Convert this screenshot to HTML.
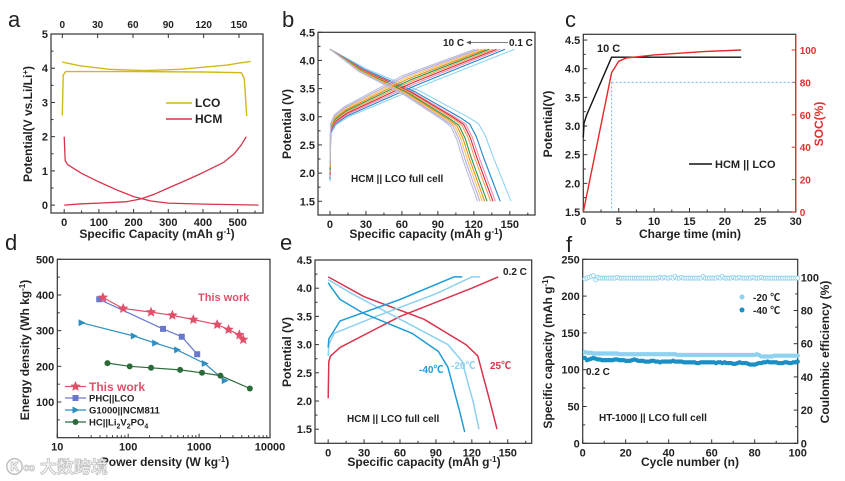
<!DOCTYPE html>
<html><head><meta charset="utf-8">
<style>
html,body{margin:0;padding:0;background:#fff;}
svg{display:block;font-family:"Liberation Sans","Noto Sans CJK SC",sans-serif;}
</style></head>
<body>
<svg id="fig" width="845" height="481" viewBox="0 0 845 481" xmlns="http://www.w3.org/2000/svg"></svg>
<script>
// ---------- DATA ----------
// panel a
const aLcoChargeX=[0,15,40,70,100,140,150,160];
const aLcoChargeY=[4.18,4.07,3.97,3.93,3.97,4.09,4.15,4.2];
const aLcoDisX=[0,0.8,3,60,120,152,154.5,156.5];
const aLcoDisY=[2.62,3.8,3.9,3.9,3.89,3.87,3.7,2.6];
const aHcmDisX=[0,3,10,50,100,150,200,250,300,400,560];
const aHcmDisY=[2.0,1.3,1.18,0.93,0.68,0.45,0.25,0.12,0.06,0.03,0.0];
const aHcmChX=[0,50,100,180,220,260,300,350,400,460,490,510,525];
const aHcmChY=[0,0.04,0.06,0.1,0.18,0.32,0.5,0.72,0.95,1.25,1.5,1.75,2.0];
// panel b
const bRates=["0.1C","0.2C","0.3C","0.5C","1C","2C","3C","5C","8C","10C"];
const bChargeCap=[154,146,142,139,136,133,130,127,124,121];
const bDisCap=[151,142,138,136,134,131,129,127,125,123];
const bOffset=[0,0.02,0.04,0.06,0.08,0.1,0.12,0.14,0.16,0.18];
const bColors=["#8ed3f2","#1f86c8","#f28db0","#d8283c","#f4a35a","#2c9a48","#f08c1e","#f3c75a","#b9a8e6","#b8c0d8"];
const bChargeFrac=[0,0.004,0.03,0.1,0.5,1];
const bChargeV=[1.85,2.7,2.85,3.0,3.55,4.2];
const bDisFrac=[0,0.2,0.5,0.76,0.82,0.86,0.9,1];
const bDisV=[4.2,3.85,3.45,3.0,2.88,2.65,2.3,1.5];
// panel c
const cTimeV=[0,0.1,0.5,4,22.3];
const cVolt=[2.8,3.05,3.2,4.2,4.2];
const cTimeS=[0,4,5,6,10,17,22.3];
const cSoc=[0,86,93,95,97,99,100];
// panel d
const dThisP=[44,85,210,420,830,1800,2600,3700,4200];
const dThisE=[393,362,352,343,331,317,303,288,275];
const dPhcP=[39,310,570,940];
const dPhcE=[388,305,283,234];
const dG1P=[22,120,240,490,1200,2300];
const dG1E=[322,285,265,246,208,160];
const dHcP=[51,105,210,540,1100,2000,5200];
const dHcE=[209,200,196,190,182,174,138];
// panel e
const e25cX=[0,0.5,2,10,60,120,142]; const e25cY=[2.05,2.7,2.8,2.95,3.5,4.0,4.2];
const e25dX=[0,30,80,115,125,130,135,141]; const e25dY=[4.2,3.85,3.45,3.0,2.8,2.4,2.0,1.5];
const e20cX=[0,0.5,5,40,90,120,127]; const e20cY=[2.8,3.0,3.2,3.5,3.9,4.2,4.2];
const e20dX=[0,20,60,100,112,117,121,126]; const e20dY=[4.15,3.9,3.45,3.0,2.7,2.3,2.0,1.5];
const e40cX=[0,0.5,10,60,105,112]; const e40cY=[2.95,3.1,3.42,3.8,4.2,4.2];
const e40dX=[0,3,10,30,70,92,100,105,110,114]; const e40dY=[4.1,4.0,3.8,3.55,3.2,2.88,2.6,2.2,1.8,1.45];
// panel f
const fCap20=[124,123,123,123,122,122,122,122,122,122,122,122,122,122,122,122,121,121,121,121,121,121,121,121,121,121,121,121,121,121,121,121,121,121,121,121,121,121,121,121,121,121,121,120,120,120,120,120,120,120,120,120,120,120,120,120,120,120,120,120,120,120,120,120,120,120,120,120,120,120,120,120,120,120,120,120,120,120,120,120,121,120,118,118,118,118,118,118,119,119,119,119,119,119,119,119,119,119,119,119];
const fCap40=[116,113,114,115,116,115,114,114,113,113,113,113,113,113,114,114,113,113,113,112,112,112,113,114,113,112,112,112,111,111,111,112,112,111,111,110,111,111,111,111,111,112,111,111,111,111,110,110,110,110,110,110,109,109,110,110,110,110,110,110,110,109,110,110,109,110,109,109,109,108,108,109,110,109,109,109,108,107,107,107,108,109,109,110,110,111,110,110,110,110,109,109,109,110,110,109,109,110,110,111];
const fCe=[99,99.5,100,100.5,101,98.5,100,99.5,99.5,99.5,99.5,99.5,99.5,99.5,99.5,100,99.5,99.5,99.5,99.5,99.5,99.5,99.5,99.5,99.5,99.5,99.5,99.5,99.5,99.5,99.5,99.5,99.5,99.5,99.5,100,99.5,100,99.5,99.5,100,99.5,100.5,99.5,99.5,100,99.5,99.5,99.5,99.5,99.5,99.5,99.5,99.5,99.5,100.5,99.5,99.5,99.5,99.5,99.5,99.5,100,99.5,100.5,99.5,99.5,99.5,99.5,100,99.5,99.5,100,99.5,99.5,99.5,99.5,99.5,100,99.5,99.5,99.5,100,99.5,99.5,99.5,99.5,99.5,99.5,99.5,99.5,99.5,99.5,99.5,99.5,99.5,99.5,99.5,99.5,99.5];

// ---------- HELPERS ----------
const NS="http://www.w3.org/2000/svg";
const svg=document.getElementById('fig');
function mk(tag,a,p){const e=document.createElementNS(NS,tag);for(const k in a)e.setAttribute(k,a[k]);(p||svg).appendChild(e);return e;}
function txt(x,y,s,a,p){const e=mk('text',Object.assign({x:x,y:y,'font-size':11,'font-weight':'bold',fill:'#222'},a||{}),p);e.innerHTML=s;return e;}
function axes(o){
  const g=mk('g',{});
  
  
  const lg=Math.log10;
  o.sx=v=>o.xlog? o.L+(lg(v)-lg(o.xmin))/(lg(o.xmax)-lg(o.xmin))*(o.R-o.L) : o.L+(v-o.xmin)/(o.xmax-o.xmin)*(o.R-o.L);
  o.sy=v=>o.B-(v-o.ymin)/(o.ymax-o.ymin)*(o.B-o.T);
  o.g=g;
  return o;
}
function frame(o){
  const r=mk('rect',{x:o.L,y:o.T,width:o.R-o.L,height:o.B-o.T,fill:'none',stroke:'#333','stroke-width':1.2},o.g);
  
  
}
function xticks(o,vals,labels,minor){
  vals.forEach((v,i)=>{const x=o.sx(v);mk('line',{x1:x,x2:x,y1:o.B,y2:o.B-4,stroke:'#333'},o.g);
    const t=txt(x,o.B+13,labels[i],{'text-anchor':'middle'},o.g);
    
    });
  (minor||[]).forEach(v=>{const x=o.sx(v);mk('line',{x1:x,x2:x,y1:o.B,y2:o.B-2.5,stroke:'#333'},o.g);});
}
function yticks(o,vals,labels,minor){
  vals.forEach((v,i)=>{const y=o.sy(v);mk('line',{x1:o.L,x2:o.L+4,y1:y,y2:y,stroke:'#333'},o.g);
    const t=txt(o.L-3,y+4,labels[i],{'text-anchor':'end'},o.g);
    
    });
  (minor||[]).forEach(v=>{const y=o.sy(v);mk('line',{x1:o.L,x2:o.L+2.5,y1:y,y2:y,stroke:'#333'},o.g);});
}
function line(o,xs,ys,color,w,sx,sy){
  sx=sx||o.sx; sy=sy||o.sy;
  return mk('polyline',{points:xs.map((x,i)=>sx(x).toFixed(1)+','+sy(ys[i]).toFixed(1)).join(' '),fill:'none',stroke:color,'stroke-width':w||1.3,'stroke-linejoin':'round'},o.g);
}
function rng(a,b,s){const r=[];for(let v=a;v<=b+1e-9;v+=s)r.push(+v.toFixed(4));return r;}
function panelLetter(x,y,s){const t=mk('text',{x:x,y:y,'font-size':22,fill:'#222'});t.textContent=s;
  
  }
function ytitle(x,cy,html,color){const t=mk('text',{x:0,y:0,'font-size':12,'font-weight':'bold',fill:color||'#222','text-anchor':'middle',transform:`translate(${x},${cy}) rotate(-90)`});t.innerHTML=html;return t;}
function xtitle(cx,y,html){const t=mk('text',{x:cx,y:y,'font-size':12,'font-weight':'bold',fill:'#222','text-anchor':'middle'});t.innerHTML=html;return t;}
const SUPm1='<tspan dy="-4" font-size="8">-1</tspan><tspan dy="4">)</tspan>';

// ---------- PANEL A ----------
panelLetter(8,27,'a');
const A=axes({name:'panel-a',L:51,R:263,T:34,B:213,xmin:-38,xmax:573,ymin:-0.23,ymax:5});
frame(A);
xticks(A,[0,100,200,300,400,500],['0','100','200','300','400','500'],rng(50,550,100));
yticks(A,[0,1,2,3,4,5],['0','1','2','3','4','5'],rng(0.5,4.5,1));
const sxTop=v=>62.3+v*1.178;
[0,30,60,90,120,150].forEach(v=>{const x=sxTop(v);mk('line',{x1:x,x2:x,y1:A.T,y2:A.T+4,stroke:'#333'},A.g);
  const t=txt(x,28,String(v),{'text-anchor':'middle','font-size':10},A.g);
  
  });
let s;
s=line(A,aLcoChargeX,aLcoChargeY,'#d4b71c',1.4,sxTop);
s=line(A,aLcoDisX,aLcoDisY,'#d4b71c',1.4,sxTop);
s=line(A,aHcmDisX,aHcmDisY,'#d8334c',1.3);
s=line(A,aHcmChX,aHcmChY,'#d8334c',1.3);
mk('line',{x1:166,x2:192,y1:103,y2:103,stroke:'#d4b71c','stroke-width':1.4});
s=txt(195,107,'LCO',{'font-size':12});
mk('line',{x1:166,x2:192,y1:119,y2:119,stroke:'#d8334c','stroke-width':1.4});
s=txt(195,123,'HCM',{'font-size':12});
s=ytitle(32,124,'Potential(V vs.Li/Li<tspan dy="-4" font-size="8">+</tspan><tspan dy="4">)</tspan>');
s=xtitle(157,238,'Specific Capacity (mAh g'+SUPm1);

// ---------- PANEL B ----------
panelLetter(282,27,'b');
const Bp=axes({name:'panel-b',L:318,R:535,T:32.3,B:215,xmin:-10,xmax:171,ymin:1.256,ymax:4.5});
frame(Bp);
xticks(Bp,[0,30,60,90,120,150],['0','30','60','90','120','150'],rng(15,165,30));
yticks(Bp,[1.5,2,2.5,3,3.5,4,4.5],['1.5','2.0','2.5','3.0','3.5','4.0','4.5'],rng(1.75,4.25,0.5));
bRates.forEach((r,i)=>{
  let c=line(Bp,bChargeFrac.map(f=>f*bChargeCap[i]),bChargeV.map((v,k)=>k==0?v+bOffset[i]*2:Math.min(4.2,v+bOffset[i])),bColors[i],1.1);
  
  
  let d=line(Bp,bDisFrac.map(f=>f*bDisCap[i]),bDisV.map((v,k)=>k==0||k==bDisV.length-1?v:v-bOffset[i]*0.3),bColors[i],1.1);
  
  
});
s=txt(443,46,'10 C',{'font-size':10});
mk('line',{x1:469,x2:508,y1:42.5,y2:42.5,stroke:'#555','stroke-width':0.8});
mk('polygon',{points:'466,42.5 471,40.5 471,44.5',fill:'#555'});
s=txt(509,46,'0.1 C',{'font-size':10});
s=txt(351,182,'HCM || LCO full cell',{'font-size':10});
s=ytitle(291,124,'Potential (V)');
s=xtitle(426,238,'Specific capacity (mAh g'+SUPm1);

// ---------- PANEL C ----------
panelLetter(565,27,'c');
const C=axes({name:'panel-c',L:583.3,R:795.7,T:34.3,B:212,xmin:0,xmax:30,ymin:1.5,ymax:4.6});
const sySoc=v=>212-v*1.62;
frame(C);
xticks(C,[0,5,10,15,20,25,30],['0','5','10','15','20','25','30'],rng(2.5,27.5,5));
yticks(C,[1.5,2,2.5,3,3.5,4,4.5],['1.5','2.0','2.5','3.0','3.5','4.0','4.5'],rng(1.75,4.25,0.5));
mk('line',{x1:C.R,x2:C.R,y1:C.T,y2:C.B,stroke:'#e03030','stroke-width':1.3},C.g);
[0,20,40,60,80,100].forEach(v=>{const y=sySoc(v);mk('line',{x1:C.R,x2:C.R-4,y1:y,y2:y,stroke:'#e03030'},C.g);
  const t=txt(C.R+4,y+4,String(v),{fill:'#e03030','font-size':10},C.g);
  
  });
mk('line',{x1:C.sx(4),x2:C.sx(4),y1:sySoc(80),y2:C.B,stroke:'#6bbbe6','stroke-dasharray':'2,2'},C.g);
mk('line',{x1:C.sx(4),x2:C.R,y1:sySoc(80),y2:sySoc(80),stroke:'#6bbbe6','stroke-dasharray':'2,2'},C.g);
s=line(C,cTimeV,cVolt,'#111',1.4);
s=line(C,cTimeS,cSoc,'#e62828',1.4,C.sx,sySoc);
s=txt(597,52,'10 C',{'font-size':11});
mk('line',{x1:689,x2:712,y1:164,y2:164,stroke:'#111','stroke-width':1.4});
s=txt(715,168,'HCM || LCO',{'font-size':11});
s=ytitle(552,124,'Potential(V)');
s=ytitle(823,124,'SOC(%)','#e03030');
s=xtitle(690,238,'Charge time (min)');

// ---------- PANEL D ----------
panelLetter(5,250,'d');
const D=axes({name:'panel-d',L:57.3,R:270,T:259.3,B:437.7,xmin:10,xmax:10000,ymin:0,ymax:500,xlog:true});
frame(D);
const dMinor=[];[10,100,1000].forEach(b=>{for(let k=2;k<10;k++)dMinor.push(b*k);});
xticks(D,[10,100,1000,10000],['10','100','1000','10000'],dMinor);
yticks(D,[100,200,300,400,500],['100','200','300','400','500'],rng(50,450,100));
function star(cx,cy,r,col,p){const pts=[];for(let k=0;k<10;k++){const a=-Math.PI/2+k*Math.PI/5,rr=k%2?r*0.45:r;pts.push((cx+rr*Math.cos(a)).toFixed(1)+','+(cy+rr*Math.sin(a)).toFixed(1));}return mk('polygon',{points:pts.join(' '),fill:col},p);}
function marker(type,x,y,col,p){
  if(type=='star')return star(x,y,5.5,col,p);
  if(type=='sq')return mk('rect',{x:x-3,y:y-3,width:6,height:6,fill:col},p);
  if(type=='tri')return mk('polygon',{points:`${x-3},${y-3.5} ${x+4},${y} ${x-3},${y+3.5}`,fill:col},p);
  return mk('circle',{cx:x,cy:y,r:3,fill:col},p);
}
[[dPhcP,dPhcE,'#6a78cc','sq','series-phc-lco'],[dG1P,dG1E,'#2f8fc0','tri','series-g1000-ncm811'],[dHcP,dHcE,'#2b6b3a','circ','series-hc-lvp'],[dThisP,dThisE,'#e0506a','star','series-this-work']].forEach(sr=>{
  const g=mk('g',{},D.g);
  
  
  line({g:g},sr[0],sr[1],sr[2],1.2,D.sx,D.sy);
  sr[0].forEach((p,i)=>marker(sr[3],D.sx(p),D.sy(sr[1][i]),sr[2],g));
});
s=txt(198,301,'This work',{fill:'#e0506a','font-size':11,'font-weight':'bold'});
const dLeg=[['This work','#e0506a','star',386.5],['PHC||LCO','#6a78cc','sq',398],['G1000||NCM811','#2f8fc0','tri',410],['HC||Li<tspan dy="3" font-size="7">2</tspan><tspan dy="-3">V</tspan><tspan dy="3" font-size="7">2</tspan><tspan dy="-3">PO</tspan><tspan dy="3" font-size="7">4</tspan>','#2b6b3a','circ',422]];
dLeg.forEach((l,i)=>{const g=mk('g',{},D.g);
  
  
  mk('line',{x1:65,x2:86,y1:l[3],y2:l[3],stroke:l[1],'stroke-width':1.2},g);marker(l[2],75.5,l[3],l[1],g);
  txt(89,l[3]+(i==0?4.5:3.5),l[0],{fill:i==0?'#e0506a':'#222','font-size':i==0?12:9.5},g);});
s=ytitle(29,350,'Energy density (Wh kg'+SUPm1);
s=xtitle(165,466,'Power density (W kg'+SUPm1);

// ---------- PANEL E ----------
panelLetter(280,250,'e');
const E=axes({name:'panel-e',L:315,R:531.7,T:260,B:443.3,xmin:-11,xmax:170,ymin:1.25,ymax:4.5});
frame(E);
xticks(E,[0,30,60,90,120,150],['0','30','60','90','120','150'],rng(15,165,30));
yticks(E,[1.5,2,2.5,3,3.5,4,4.5],['1.5','2.0','2.5','3.0','3.5','4.0','4.5'],rng(1.75,4.25,0.5));
[[e25cX,e25cY,'#d8344c','charge-25c'],[e25dX,e25dY,'#d8344c','discharge-25c'],[e20cX,e20cY,'#8dd0f0','charge-minus20c'],[e20dX,e20dY,'#8dd0f0','discharge-minus20c'],[e40cX,e40cY,'#1f9cd6','charge-minus40c'],[e40dX,e40dY,'#1f9cd6','discharge-minus40c']].forEach(c=>{
  const p=line(E,c[0],c[1],c[2],1.5);
  
  });
s=txt(503,275,'0.2 C',{'font-size':10});
s=txt(419,373,'-40℃',{'font-size':10,fill:'#1f9cd6'});
s=txt(451,369,'-20℃',{'font-size':10,fill:'#8dd0f0'});
s=txt(490,369,'25℃',{'font-size':10,fill:'#d8344c'});
s=txt(347,422,'HCM || LCO full cell',{'font-size':10});
s=ytitle(291,352,'Potential (V)');
s=xtitle(424,466,'Specific capacity (mAh g'+SUPm1);

// ---------- PANEL F ----------
panelLetter(566,252,'f');
const F=axes({name:'panel-f',L:582.7,R:797.7,T:259.3,B:443.3,xmin:0,xmax:100,ymin:0,ymax:250});
const syCe=v=>443.3-v*1.66;
frame(F);
xticks(F,[0,20,40,60,80,100],['0','20','40','60','80','100'],rng(10,90,20));
yticks(F,[0,50,100,150,200,250],['0','50','100','150','200','250'],rng(25,225,50));
[0,20,40,60,80,100].forEach(v=>{const y=syCe(v);mk('line',{x1:F.R,x2:F.R-4,y1:y,y2:y,stroke:'#333'},F.g);
  const t=txt(F.R+3,y+4,String(v),{},F.g);
  
  });
[10,30,50,70,90].forEach(v=>{const y=syCe(v);mk('line',{x1:F.R,x2:F.R-2.5,y1:y,y2:y,stroke:'#333'},F.g);});
const gce=mk('g',{},F.g);


fCe.forEach((v,i)=>mk('circle',{cx:F.sx(i+1),cy:syCe(v),r:2,fill:'#fff',stroke:'#8fd2f0','stroke-width':0.9},gce));
const g20=mk('g',{},F.g);


fCap20.forEach((v,i)=>mk('circle',{cx:F.sx(i+1),cy:F.sy(v),r:2.2,fill:'#8fd2f0'},g20));
const g40=mk('g',{},F.g);


fCap40.forEach((v,i)=>mk('circle',{cx:F.sx(i+1),cy:F.sy(v),r:2.2,fill:'#1b8fc4'},g40));
mk('circle',{cx:742,cy:297,r:2.5,fill:'#8fd2f0'});
s=txt(753,301,'-20 ℃',{'font-size':10});
mk('circle',{cx:742,cy:310,r:2.5,fill:'#1b8fc4'});
s=txt(753,314,'-40 ℃',{'font-size':10});
s=txt(586,375,'0.2 C',{'font-size':10});
s=txt(599,421,'HT-1000 || LCO full cell',{'font-size':10});
s=ytitle(552,352,'Specific capacity (mAh g'+SUPm1);
s=ytitle(829,352,'Coulombic efficiency (%)');
s=xtitle(690,466,'Cycle number (n)');

// watermark
s=mk('text',{x:6,y:473,'font-size':17,'font-weight':'bold',fill:'#f4f4f4',stroke:'#bbb','stroke-width':0.7});
s.textContent='Ⓚ∞ 大数跨境';


</script>
</body></html>
